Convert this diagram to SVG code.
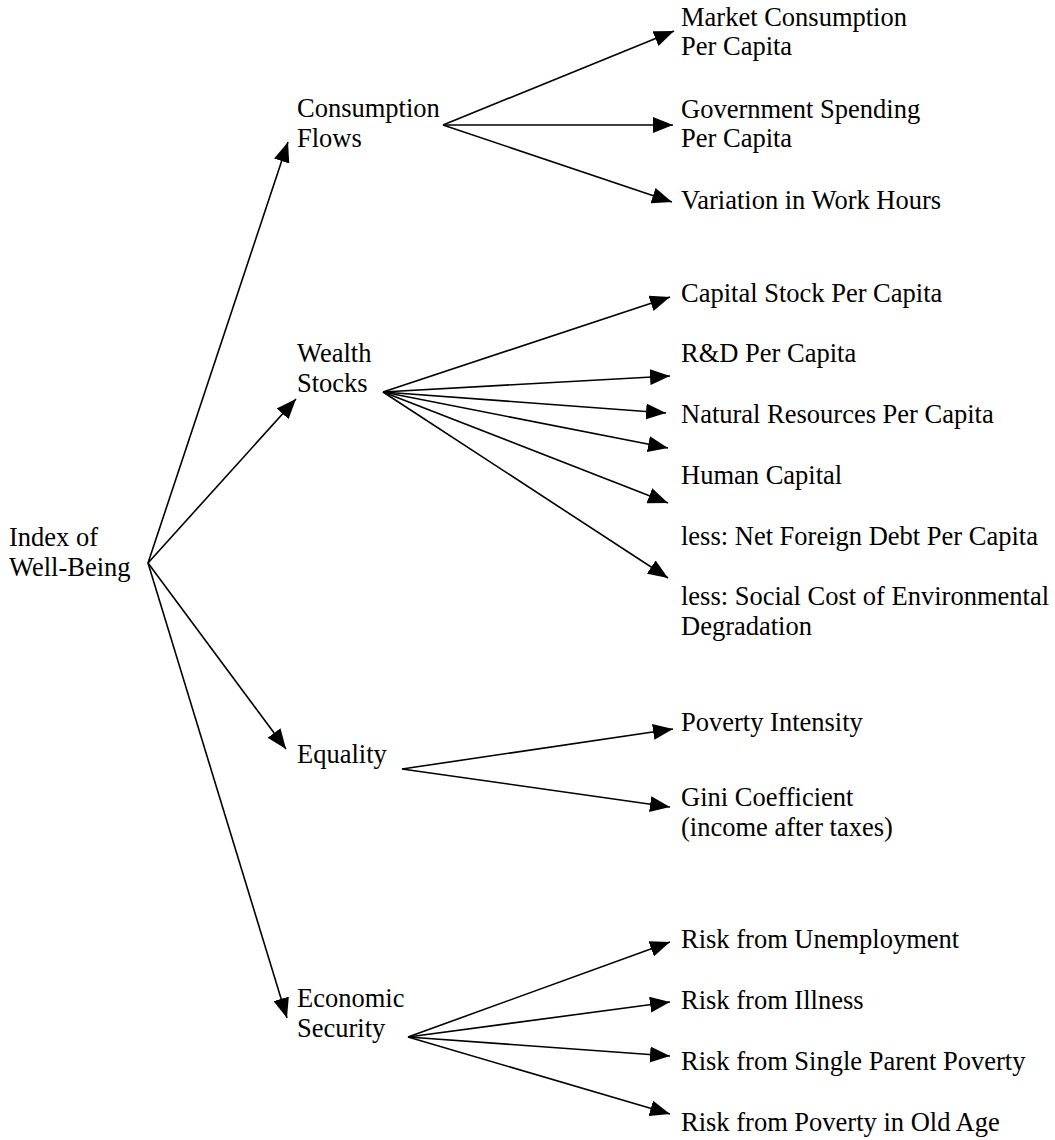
<svg xmlns="http://www.w3.org/2000/svg" width="1055" height="1140" viewBox="0 0 1055 1140">
<style>
text { font-family: "Liberation Serif", "Times New Roman", serif; font-size: 26.5px; fill: #000; }
.c line { stroke: #000; stroke-width: 1.6; marker-end: url(#ah); }
</style>
<defs>
<marker id="ah" viewBox="0 0 20 16" refX="20" refY="8" markerWidth="20" markerHeight="16" markerUnits="userSpaceOnUse" orient="auto">
<path d="M0,0 L20,8 L0,16 z" fill="#000"/>
</marker>
</defs>
<rect width="1055" height="1140" fill="#fff"/>
<g id="connectors" class="c">
<line x1="148" y1="563" x2="288" y2="142"/>
<line x1="148" y1="563" x2="296" y2="399"/>
<line x1="148" y1="563" x2="286" y2="749"/>
<line x1="148" y1="563" x2="287" y2="1018"/>
<line x1="443" y1="125" x2="674" y2="31"/>
<line x1="443" y1="125" x2="673" y2="125"/>
<line x1="443" y1="125" x2="672" y2="202"/>
<line x1="383" y1="392" x2="670" y2="297"/>
<line x1="383" y1="392" x2="670" y2="376"/>
<line x1="383" y1="392" x2="666" y2="413"/>
<line x1="383" y1="392" x2="668" y2="448"/>
<line x1="383" y1="392" x2="668" y2="503"/>
<line x1="383" y1="392" x2="668" y2="578"/>
<line x1="402" y1="769" x2="673" y2="729"/>
<line x1="402" y1="769" x2="670" y2="807"/>
<line x1="408" y1="1037" x2="670" y2="942"/>
<line x1="408" y1="1037" x2="670" y2="1002"/>
<line x1="408" y1="1037" x2="670" y2="1056"/>
<line x1="408" y1="1037" x2="670" y2="1114"/>
</g>
<g id="root"><text x="9" y="546">Index of</text><text x="9" y="576">Well-Being</text></g>
<g id="consumption"><text x="297" y="117">Consumption</text><text x="297" y="147">Flows</text></g>
<g id="wealth"><text x="297" y="362">Wealth</text><text x="297" y="392">Stocks</text></g>
<g id="equality"><text x="297" y="763">Equality</text></g>
<g id="security"><text x="297" y="1007">Economic</text><text x="297" y="1037">Security</text></g>
<g id="market"><text x="681" y="26">Market Consumption</text><text x="681" y="55">Per Capita</text></g>
<g id="government"><text x="681" y="118">Government Spending</text><text x="681" y="147">Per Capita</text></g>
<g id="workhours"><text x="681" y="209">Variation in Work Hours</text></g>
<g id="capital"><text x="681" y="302">Capital Stock Per Capita</text></g>
<g id="rd"><text x="681" y="362">R&amp;D Per Capita</text></g>
<g id="natural"><text x="681" y="423">Natural Resources Per Capita</text></g>
<g id="human"><text x="681" y="484">Human Capital</text></g>
<g id="debt"><text x="681" y="545">less: Net Foreign Debt Per Capita</text></g>
<g id="environment"><text x="681" y="605">less: Social Cost of Environmental</text><text x="681" y="635">Degradation</text></g>
<g id="poverty"><text x="681" y="731">Poverty Intensity</text></g>
<g id="gini"><text x="681" y="806">Gini Coefficient</text><text x="681" y="836">(income after taxes)</text></g>
<g id="unemployment"><text x="681" y="948">Risk from Unemployment</text></g>
<g id="illness"><text x="681" y="1009">Risk from Illness</text></g>
<g id="single"><text x="681" y="1070">Risk from Single Parent Poverty</text></g>
<g id="oldage"><text x="681" y="1131">Risk from Poverty in Old Age</text></g>
</svg>
